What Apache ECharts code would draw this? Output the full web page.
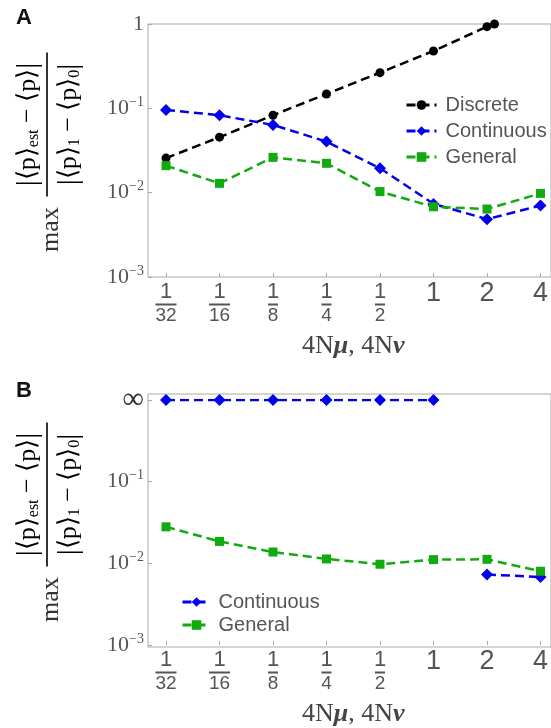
<!DOCTYPE html>
<html><head><meta charset="utf-8">
<script src="https://cdn.jsdelivr.net/npm/echarts@6/dist/echarts.min.js"></script>
<style>html,body{margin:0;padding:0;background:#fff}#c{width:551px;height:728px}</style>
</head><body><div id="c"></div>
<script>
// ---- data ----
const xTickLabels = ['1/32', '1/16', '1/8', '1/4', '1/2', '1', '2', '4'];
const xLog2 = [-5, -4, -3, -2, -1, 0, 1, 2];            // log2 of 4Nmu
const discreteX = [-5, -4, -3, -2, -1, 0, 1, 1.14];
const discreteA = [0.0257, 0.0455, 0.0828, 0.148, 0.265, 0.479, 0.93, 1.0];
const continuousA = [0.0957, 0.0828, 0.0636, 0.0403, 0.0195, 0.00736, 0.00485, 0.00703];
const generalA = [0.0209, 0.0129, 0.0262, 0.0223, 0.0103, 0.0068, 0.0064, 0.0098];
const continuousB = ['inf', 'inf', 'inf', 'inf', 'inf', 'inf', 0.0073, 0.00678];
const generalB = [0.028, 0.01855, 0.01376, 0.01132, 0.00975, 0.0111, 0.0112, 0.0080];
const seriesNames = ['Discrete', 'Continuous', 'General'];

// ---- helpers ----
const INF_LEVEL = 1; // the "∞" row sits on the top decade line
function pairs(xs, ys) { return xs.map((x, i) => [x, ys[i]]); }
function withBreaks(xs, ys) {
  const out = [];
  ys.forEach((y, i) => {
    const isInf = y === 'inf';
    if (i > 0 && isInf !== (ys[i - 1] === 'inf')) out.push([(xs[i] + xs[i - 1]) / 2, '-']);
    out.push([xs[i], isInf ? INF_LEVEL : y]);
  });
  return out;
}
const tickFont = 'Liberation Sans';
const mathFont = 'Liberation Serif';
function xLabel(v) {
  const idx = xLog2.indexOf(Math.round(v));
  if (idx < 0 || Math.abs(v - Math.round(v)) > 1e-6) return '';
  const lab = xTickLabels[idx];
  if (lab.indexOf('/') >= 0) {
    const [n, d] = lab.split('/');
    return '{n|' + n + '}\n{bar' + d.length + '| }\n{d|' + d + '}';
  }
  return '{i|' + lab + '}';
}
const xRich = {
  n: {fontSize: 22, lineHeight: 22, fontFamily: tickFont, color: '#555'},
  d: {fontSize: 19, lineHeight: 19, fontFamily: tickFont, color: '#555'},
  i: {fontSize: 27, lineHeight: 26, fontFamily: tickFont, color: '#555'},
  bar1: {width: 10, height: 2, lineHeight: 3, fontSize: 2, backgroundColor: '#555'},
  bar2: {width: 21, height: 2, lineHeight: 3, fontSize: 2, backgroundColor: '#555'}
};
function yLabelFn(isB) {
  return function (v) {
    const e = Math.round(Math.log10(v));
    if (e === 0) return isB ? '{inf|\u221E}' : '{b|1}';
    return '{b|10}{s|\u2212' + (-e) + '}';
  };
}
const yRich = {
  b: {fontSize: 22, fontFamily: mathFont, color: '#555', lineHeight: 26},
  s: {fontSize: 14, fontFamily: mathFont, color: '#555', padding: [0, 0, 12, 0], lineHeight: 26},
  inf: {fontSize: 30, fontFamily: mathFont, color: '#333', lineHeight: 26}
};
const axisGray = '#aaa';
function frameGrid(top, height) {
  return {left: 148, top: top, right: -10, height: height, show: true,
    borderColor: axisGray, borderWidth: 1, backgroundColor: 'transparent'};
}
function dataX(gridIndex) {
  return {type: 'value', gridIndex: gridIndex, min: -5, max: 2, interval: 1,
    axisLine: {show: false, onZero: false}, splitLine: {show: false},
    axisTick: {inside: true, length: 4, lineStyle: {color: axisGray}},
    axisLabel: {formatter: xLabel, rich: xRich, margin: 4},
    name: '{r|4N}{g|\u03BC}{r|, 4N}{g|\u03BD}', nameLocation: 'middle', nameGap: 56,
    nameMoveOverlap: false,
    nameTextStyle: {rich: {
      r: {fontSize: 26, fontFamily: mathFont, color: '#444'},
      g: {fontSize: 26, fontFamily: mathFont, color: '#444', fontStyle: 'italic', fontWeight: 'bold'}
    }}};
}
function dataY(gridIndex, isB) {
  return {type: 'log', logBase: 10, gridIndex: gridIndex, min: 0.001, max: 1, offset: 18,
    axisLine: {show: false, onZero: false}, splitLine: {show: false},
    axisTick: {inside: true, length: 4, lineStyle: {color: axisGray}},
    axisLabel: {formatter: yLabelFn(isB), rich: yRich, margin: 4}};
}
function hiddenAxis(gridIndex) { return {type: 'value', gridIndex: gridIndex, show: false}; }
const styles = {
  Discrete: {color: '#000000', symbol: 'circle', symbolSize: 9},
  Continuous: {color: '#0000ee', symbol: 'diamond', symbolSize: 12},
  General: {color: '#11aa11', symbol: 'rect', symbolSize: 9}
};
function line(name, data, axisIdx) {
  const s = styles[name];
  return {name: name, type: 'line', xAxisIndex: axisIdx, yAxisIndex: axisIdx, data: data,
    symbol: s.symbol, symbolSize: s.symbolSize, showSymbol: true, connectNulls: false,
    itemStyle: {color: s.color}, lineStyle: {color: s.color, width: 2.5, type: [9, 5]},
    animation: false, z: 3};
}
function yTitle(cx, cy) {
  const rich = {
    m: {fontSize: 26, fontFamily: mathFont, color: '#333'},
    sub: {fontSize: 16, fontFamily: mathFont, color: '#333', padding: [12, 0, 0, 0]},
    bar: {fontSize: 30, fontFamily: mathFont, color: '#333'}
  };
  return {type: 'group', x: cx, y: cy, rotation: Math.PI / 2, children: [
    {type: 'line', shape: {x1: -72, y1: 0, x2: 72, y2: 0}, style: {stroke: '#333', lineWidth: 2}},
    {type: 'text', x: 0, y: -19, style: {text: '{bar||}{m|\u27E8p\u27E9}{sub|est}{m| \u2212 \u27E8p\u27E9}{bar||}',
      rich: rich, align: 'center', verticalAlign: 'middle'}},
    {type: 'text', x: 0, y: 22, style: {text: '{bar||}{m|\u27E8p\u27E9}{sub|1}{m| \u2212 \u27E8p\u27E9}{sub|0}{bar||}',
      rich: rich, align: 'center', verticalAlign: 'middle'}},
    {type: 'text', x: -105, y: 4, style: {text: 'max', fontSize: 26, fontFamily: mathFont, fill: '#333',
      align: 'center', verticalAlign: 'middle'}}
  ]};
}
const legendText = {fontSize: 20, fontFamily: tickFont, color: '#555'};

const chart = echarts.init(document.getElementById('c'), null, {renderer: 'canvas'});
chart.setOption({
  animation: false,
  backgroundColor: '#fff',
  grid: [frameGrid(24, 253), {left: 166, right: 8, top: 24, height: 253},
         frameGrid(394, 253), {left: 166, right: 8, top: 400, height: 247}],
  xAxis: [hiddenAxis(0), dataX(1), hiddenAxis(2), dataX(3)],
  yAxis: [hiddenAxis(0), dataY(1, false), hiddenAxis(2), dataY(3, true)],
  legend: [
    {data: seriesNames, orient: 'vertical', left: 400, top: 90, itemWidth: 30, itemHeight: 12, itemGap: 6,
      lineStyle: {width: 3}, textStyle: Object.assign({padding: [0, 0, 0, 4]}, legendText)},
    {data: seriesNames.slice(1), orient: 'vertical', left: 176, top: 587, itemWidth: 28, itemHeight: 12, itemGap: 3,
      lineStyle: {width: 3}, textStyle: Object.assign({padding: [0, 0, 0, 3]}, legendText)}
  ],
  series: [
    line('Discrete', pairs(discreteX, discreteA), 1),
    line('Continuous', pairs(xLog2, continuousA), 1),
    line('General', pairs(xLog2, generalA), 1),
    line('Continuous', withBreaks(xLog2, continuousB), 3),
    line('General', pairs(xLog2, generalB), 3)
  ],
  graphic: [
    {type: 'text', left: 16, top: 7, style: {text: 'A', fontSize: 22, fontWeight: 'bold', fontFamily: 'Liberation Sans', fill: '#111'}},
    {type: 'text', left: 16, top: 380, style: {text: 'B', fontSize: 22, fontWeight: 'bold', fontFamily: 'Liberation Sans', fill: '#111'}},
    yTitle(47, 124.5),
    yTitle(47, 494.5)
  ]
});
</script></body></html>
